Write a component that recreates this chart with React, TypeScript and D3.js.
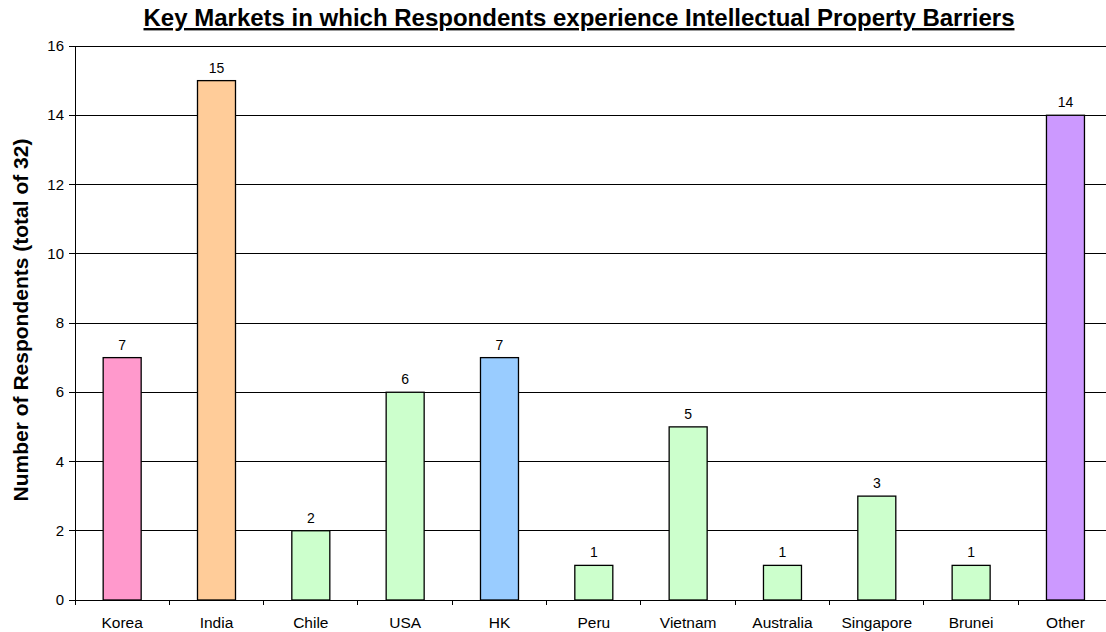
import React from "react";
import * as d3 from "d3";

const categories = ["Korea", "India", "Chile", "USA", "HK", "Peru", "Vietnam", "Australia", "Singapore", "Brunei", "Other"];
const values = [7, 15, 2, 6, 7, 1, 5, 1, 3, 1, 14];
const colors = ["#FF99CC", "#FFCC99", "#CCFFCC", "#CCFFCC", "#99CCFF", "#CCFFCC", "#CCFFCC", "#CCFFCC", "#CCFFCC", "#CCFFCC", "#CC99FF"];
const yTicks = [0, 2, 4, 6, 8, 10, 12, 14, 16];

export default function App() {
  const W = 1106, H = 632;
  const left = 75, top = 46, bottom = 600;
  const band = 94.33;
  const right = left + band * categories.length;
  const x = d3.scaleBand<string>().domain(categories).range([left, right]).paddingInner(0).paddingOuter(0);
  const y = d3.scaleLinear().domain([0, 16]).range([bottom, top]);
  const barW = 38;
  const font = "Arial, 'Liberation Sans', sans-serif";
  return (
    <svg width={W} height={H} style={{ position: "absolute", left: 0, top: 0 }} fontFamily={font}>
      <rect width={W} height={H} fill="#fff" />
      <text x={579} y={26} textAnchor="middle" fontSize={24} fontWeight="bold" textDecoration="underline">
        Key Markets in which Respondents experience Intellectual Property Barriers
      </text>
      {yTicks.map((t) => (
        <g key={t}>
          {t > 0 && <line x1={left} x2={right} y1={y(t)} y2={y(t)} stroke="#000" strokeWidth={1} shapeRendering="crispEdges" />}
          <line x1={left - 6} x2={left} y1={y(t)} y2={y(t)} stroke="#000" shapeRendering="crispEdges" />
          <text x={left - 11} y={y(t) + 5} textAnchor="end" fontSize={15}>{t}</text>
        </g>
      ))}
      {categories.map((c, i) => {
        const cx = x(c)! + x.bandwidth() / 2;
        return (
          <g key={c}>
            <rect x={cx - barW / 2} y={y(values[i])} width={barW} height={y(0) - y(values[i])} fill={colors[i]} stroke="#000" strokeWidth={1.3} />
            <text x={cx} y={y(values[i]) - 8} textAnchor="middle" fontSize={14}>{values[i]}</text>
            <text x={cx} y={628} textAnchor="middle" fontSize={15.5}>{c}</text>
            <line x1={x(c)!} x2={x(c)!} y1={bottom} y2={bottom + 5} stroke="#000" shapeRendering="crispEdges" />
          </g>
        );
      })}
      <line x1={left} x2={right} y1={bottom} y2={bottom} stroke="#000" shapeRendering="crispEdges" />
      <line x1={left} x2={left} y1={top} y2={bottom} stroke="#000" shapeRendering="crispEdges" />
      <text transform={`translate(28,320) rotate(-90)`} textAnchor="middle" fontSize={21} fontWeight="bold">
        Number of Respondents (total of 32)
      </text>
    </svg>
  );
}
